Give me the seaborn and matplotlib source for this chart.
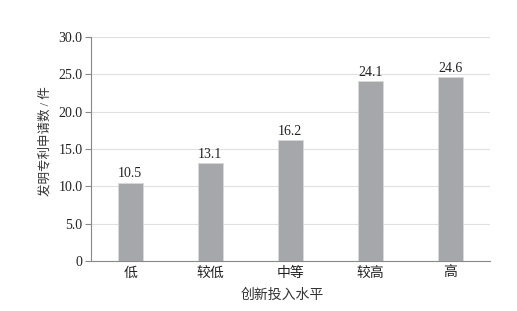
import matplotlib
matplotlib.use("Agg")
import matplotlib.pyplot as plt
import seaborn as sns
import pandas as pd

categories = ["低", "较低", "中等", "较高", "高"]
values = [10.5, 13.1, 16.2, 24.1, 24.6]
yticks = [0, 5, 10, 15, 20, 25, 30]
ytick_labels = ["0", "5.0", "10.0", "15.0", "20.0", "25.0", "30.0"]

sns.set_theme(style="white")
plt.rcParams['font.family'] = ['Liberation Serif', 'Noto Sans CJK SC']

df = pd.DataFrame({"cat": categories, "val": values})

fig = plt.figure(figsize=(5.17, 3.11), dpi=100)
ax = fig.add_axes([0.176, 0.161, 0.772, 0.72])
sns.barplot(data=df, x="cat", y="val", color="#a6a7aa", width=0.31,
            edgecolor="#d8d8d8", linewidth=0.6, saturation=1, ax=ax, zorder=3)
ax.set_ylim(0, 30)
ax.set_xlim(-0.49, 4.5)
ax.set_yticks(yticks)
ax.set_yticklabels(ytick_labels, fontsize=10, color="#222222")
ax.tick_params(axis='y', length=4, width=0.8, color="#888888", direction='out', pad=2, left=True)
ax.tick_params(axis='x', length=0, labelsize=10, labelcolor="#222222", pad=4)
ax.grid(axis='y', color="#e0e0e0", linewidth=0.8, zorder=0)
for s in ["top", "right"]:
    ax.spines[s].set_visible(False)
for s in ["left", "bottom"]:
    ax.spines[s].set_color("#888888")
    ax.spines[s].set_linewidth(0.8)
for i, v in enumerate(values):
    ax.text(i, v + 0.3, f"{v:.1f}", ha="center", va="bottom", fontsize=10, color="#222222")
ax.set_xlabel("创新投入水平", fontsize=10, color="#333333")
ax.set_ylabel("发明专利申请数 / 件", fontsize=9, color="#333333")
ax.xaxis.set_label_coords(0.479, -0.152)
ax.yaxis.set_label_coords(-0.115, 0.536)
ax.xaxis.label.set_va("center")
ax.yaxis.label.set_va("center")
fig.savefig("out.png", dpi=100)
